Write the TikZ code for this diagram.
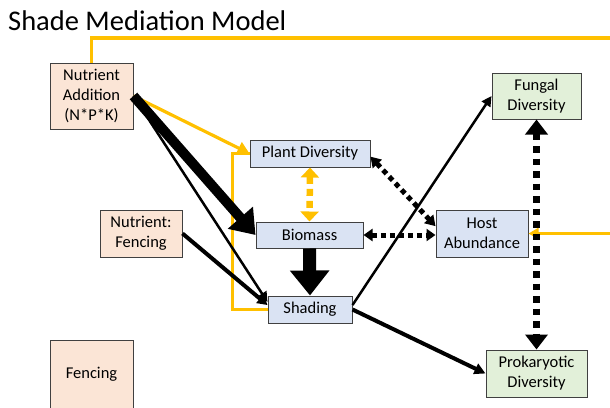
\documentclass[tikz,border=0pt]{standalone}
\usepackage{fontspec}
\setmainfont{Carlito}
\usetikzlibrary{arrows.meta,calc}
\definecolor{ylw}{HTML}{FFC000}
\definecolor{peach}{HTML}{FBE5D6}
\definecolor{bluebox}{HTML}{DAE3F3}
\definecolor{greenbox}{HTML}{E2F0D9}
\definecolor{edgegray}{HTML}{404040}
\begin{document}
\begin{tikzpicture}[x=1pt,y=-1pt,
  box/.style={draw=edgegray, line width=1pt, align=center, inner sep=0pt,
    font=\fontsize{16.5}{20}\selectfont},
  treat/.style={box, fill=peach},
  mid/.style={box, fill=bluebox},
  resp/.style={box, fill=greenbox},
  ylink/.style={draw=ylw, line width=3.2pt},
  blink/.style={draw=black},
  dotlink/.style={draw=black, line width=5pt, dash pattern=on 5pt off 4pt}
]
\useasboundingbox (0,0) rectangle (610,407);
\fill[white] (0,0) rectangle (610,407);

\node[anchor=base west, font=\fontsize{28.5}{32}\selectfont, inner sep=0pt] (title) at (8,30) {Shade Mediation Model};

\node[treat, minimum width=83pt, minimum height=66pt] (NA) at (91.5,96) {Nutrient\\Addition\\(N*P*K)};
\node[treat, minimum width=82pt, minimum height=47pt] (NF) at (141,233.5) {Nutrient:\\Fencing};
\node[treat, minimum width=83pt, minimum height=68pt] (F) at (91.5,374) {Fencing};

\node[mid, minimum width=120pt, minimum height=27pt] (PD) at (310,153.5) {Plant Diversity};
\node[mid, minimum width=107pt, minimum height=26pt] (BM) at (309.5,235) {Biomass};
\node[mid, minimum width=84pt, minimum height=27pt] (SH) at (310,309.5) {Shading};
\node[mid, minimum width=92pt, minimum height=47pt] (HA) at (482,233.5) {Host\\Abundance};

\node[resp, minimum width=89pt, minimum height=46pt] (FD) at (536.5,96) {Fungal\\Diversity};
\node[resp, minimum width=101pt, minimum height=47pt] (PR) at (536.5,373.5) {Prokaryotic\\Diversity};

\coordinate (topR) at (612,38);
\coordinate (midR) at (612,233.5);

% yellow connectors
\draw[ylink] (NA.north) |- (topR);
\draw[ylink, -{Triangle[width=11pt,length=10pt]}] (midR) -- (HA.east);
\draw[ylink] (SH.west) -- ++(-35,0) |- (PD.west);
\draw[ylink, -{Triangle[width=13pt,length=12pt]}] (NA.east) -- (PD.west);
\draw[draw=ylw, line width=6.5pt, dash pattern=on 7pt off 5pt,
  {Triangle[width=18pt,length=10pt]}-{Triangle[width=18pt,length=10pt]}] (PD.south) -- (BM.north);

% black connectors
\draw[blink, line width=10pt, -{Triangle[width=32pt,length=23pt]}] (NA.east) -- (BM.west);
\draw[blink, line width=2.5pt, -{Triangle[width=10pt,length=10pt]}] (NA.east) -- (SH.170);
\draw[blink, line width=4pt, -{Triangle[width=11pt,length=10pt]}] (NF.east) -- (SH.174);
\draw[blink, line width=13pt, -{Triangle[width=38pt,length=25pt]}] (BM.south) -- (SH.north);
\draw[blink, line width=2.5pt, -{Triangle[width=10pt,length=10pt]}] (SH.6) -- (FD.west);
\draw[blink, line width=4pt, -{Triangle[width=11pt,length=11pt]}] (SH.east) -- (PR.west);

% dotted connectors
\draw[dotlink, {Triangle[width=12pt,length=10pt]}-{Triangle[width=12pt,length=10pt]}] (PD.-3) -- (HA.171);
\draw[dotlink, {Triangle[width=12pt,length=9pt]}-{Triangle[width=12pt,length=9pt]}] (BM.east) -- (BM.east -| HA.west);
\draw[dotlink, line width=6.5pt, dash pattern=on 6.5pt off 6pt,
  {Triangle[width=22pt,length=15pt]}-{Triangle[width=22pt,length=15pt]}] (FD.south) -- (PR.north);
\end{tikzpicture}
\end{document}
